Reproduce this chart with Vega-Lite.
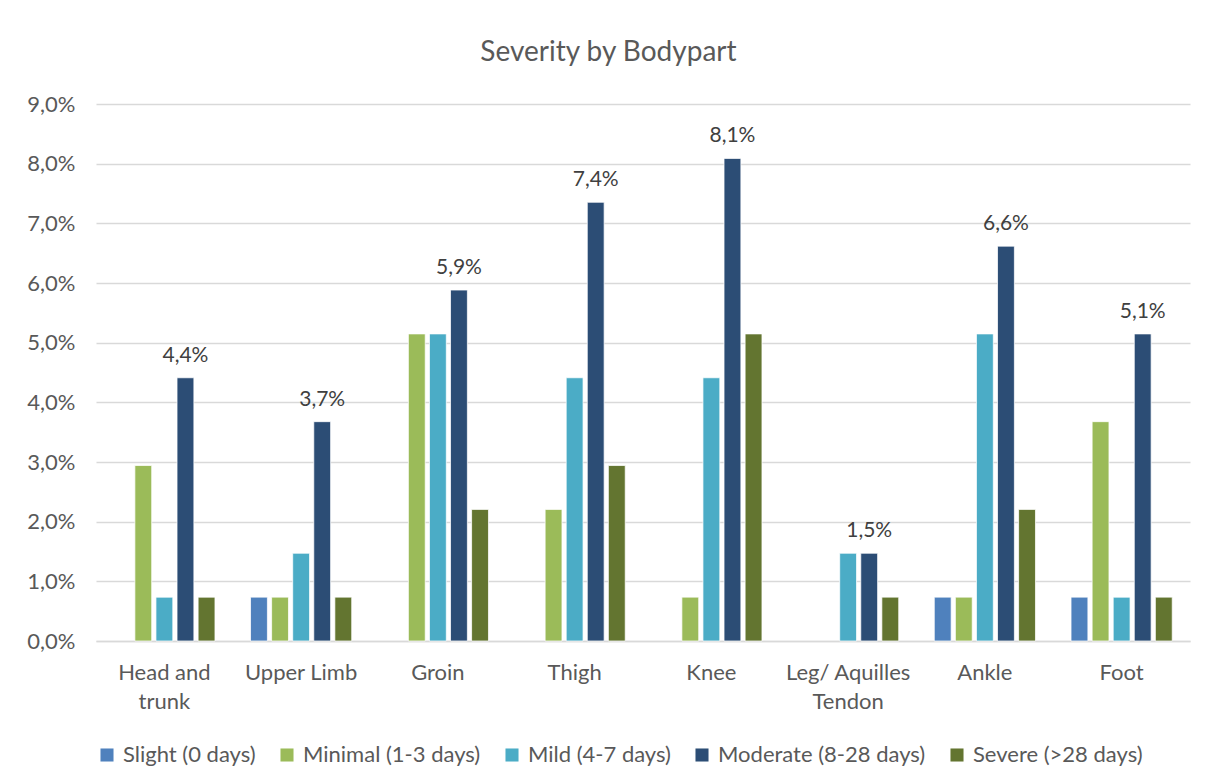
{
  "$schema": "https://vega.github.io/schema/vega-lite/v6.json",
  "width": 1094,
  "height": 537,
  "autosize": {"type": "none"},
  "padding": {"left": 96, "top": 104, "right": 15, "bottom": 143},
  "background": "white",
  "title": {"text": "Severity by Bodypart", "fontSize": 28, "font": "Lato", "fontWeight": "normal", "color": "#595959", "offset": 26, "anchor": "middle", "frame": "bounds"},
  "data": {"values": [
    {"part": "Head and trunk", "severity": "Minimal (1-3 days)", "value": 0.02941},
    {"part": "Head and trunk", "severity": "Mild (4-7 days)", "value": 0.00735},
    {"part": "Head and trunk", "severity": "Moderate (8-28 days)", "value": 0.04412},
    {"part": "Head and trunk", "severity": "Severe (>28 days)", "value": 0.00735},
    {"part": "Upper Limb", "severity": "Slight (0 days)", "value": 0.00735},
    {"part": "Upper Limb", "severity": "Minimal (1-3 days)", "value": 0.00735},
    {"part": "Upper Limb", "severity": "Mild (4-7 days)", "value": 0.01471},
    {"part": "Upper Limb", "severity": "Moderate (8-28 days)", "value": 0.03676},
    {"part": "Upper Limb", "severity": "Severe (>28 days)", "value": 0.00735},
    {"part": "Groin", "severity": "Minimal (1-3 days)", "value": 0.05147},
    {"part": "Groin", "severity": "Mild (4-7 days)", "value": 0.05147},
    {"part": "Groin", "severity": "Moderate (8-28 days)", "value": 0.05882},
    {"part": "Groin", "severity": "Severe (>28 days)", "value": 0.02206},
    {"part": "Thigh", "severity": "Minimal (1-3 days)", "value": 0.02206},
    {"part": "Thigh", "severity": "Mild (4-7 days)", "value": 0.04412},
    {"part": "Thigh", "severity": "Moderate (8-28 days)", "value": 0.07353},
    {"part": "Thigh", "severity": "Severe (>28 days)", "value": 0.02941},
    {"part": "Knee", "severity": "Minimal (1-3 days)", "value": 0.00735},
    {"part": "Knee", "severity": "Mild (4-7 days)", "value": 0.04412},
    {"part": "Knee", "severity": "Moderate (8-28 days)", "value": 0.08088},
    {"part": "Knee", "severity": "Severe (>28 days)", "value": 0.05147},
    {"part": "Leg/ Aquilles Tendon", "severity": "Mild (4-7 days)", "value": 0.01471},
    {"part": "Leg/ Aquilles Tendon", "severity": "Moderate (8-28 days)", "value": 0.01471},
    {"part": "Leg/ Aquilles Tendon", "severity": "Severe (>28 days)", "value": 0.00735},
    {"part": "Ankle", "severity": "Slight (0 days)", "value": 0.00735},
    {"part": "Ankle", "severity": "Minimal (1-3 days)", "value": 0.00735},
    {"part": "Ankle", "severity": "Mild (4-7 days)", "value": 0.05147},
    {"part": "Ankle", "severity": "Moderate (8-28 days)", "value": 0.06618},
    {"part": "Ankle", "severity": "Severe (>28 days)", "value": 0.02206},
    {"part": "Foot", "severity": "Slight (0 days)", "value": 0.00735},
    {"part": "Foot", "severity": "Minimal (1-3 days)", "value": 0.03676},
    {"part": "Foot", "severity": "Mild (4-7 days)", "value": 0.00735},
    {"part": "Foot", "severity": "Moderate (8-28 days)", "value": 0.05147},
    {"part": "Foot", "severity": "Severe (>28 days)", "value": 0.00735}
  ]},
  "encoding": {
    "x": {
      "field": "part", "type": "nominal",
      "sort": ["Head and trunk", "Upper Limb", "Groin", "Thigh", "Knee", "Leg/ Aquilles Tendon", "Ankle", "Foot"],
      "scale": {"paddingInner": 0.26, "paddingOuter": 0.13},
      "axis": {
        "title": null, "labelAngle": 0, "ticks": false, "domain": true, "domainColor": "#D9D9D9", "domainWidth": 1.3,
        "labelPadding": 21, "labelFontSize": 22, "labelFont": "Lato", "labelColor": "#595959", "labelLineHeight": 29, "labelBaseline": "top",
        "labelExpr": "datum.label == 'Head and trunk' ? ['Head and', 'trunk'] : datum.label == 'Leg/ Aquilles Tendon' ? ['Leg/ Aquilles', 'Tendon'] : datum.label"
      }
    },
    "xOffset": {
      "field": "severity", "type": "nominal",
      "scale": {"domain": ["Slight (0 days)", "Minimal (1-3 days)", "Mild (4-7 days)", "Moderate (8-28 days)", "Severe (>28 days)"], "paddingInner": 0.2}
    },
    "y": {
      "field": "value", "type": "quantitative",
      "scale": {"domain": [0, 0.09], "nice": false},
      "axis": {
        "title": null, "format": ".1%", "values": [0, 0.01, 0.02, 0.03, 0.04, 0.05, 0.06, 0.07, 0.08, 0.09],
        "domain": false, "ticks": false, "grid": true, "gridColor": "#D9D9D9", "gridWidth": 1.3,
        "labelPadding": 21, "labelFontSize": 22, "labelFont": "Lato", "labelColor": "#595959"
      }
    }
  },
  "layer": [
    {
      "mark": {"type": "bar", "stroke": "white", "strokeWidth": 0.75},
      "encoding": {
        "color": {
          "field": "severity", "type": "nominal",
          "scale": {"domain": ["Slight (0 days)", "Minimal (1-3 days)", "Mild (4-7 days)", "Moderate (8-28 days)", "Severe (>28 days)"],
                    "range": ["#4F81BD", "#9BBB59", "#4BACC6", "#2C4D75", "#637530"]},
          "legend": {
            "title": null, "orient": "bottom", "direction": "horizontal", "symbolType": "square", "symbolSize": 170,
            "symbolStrokeWidth": 0, "labelFontSize": 22, "labelFont": "Lato", "labelColor": "#595959", "labelLimit": 400,
            "columnPadding": 20, "labelOffset": 5, "offset": 32
          }
        }
      }
    },
    {
      "transform": [{"filter": "datum.severity == 'Moderate (8-28 days)'"}],
      "mark": {"type": "text", "baseline": "bottom", "dy": -12, "fontSize": 21, "font": "Lato", "color": "#404040"},
      "encoding": {
        "text": {"field": "value", "type": "quantitative", "format": ".1%"}
      }
    }
  ],
  "config": {
    "locale": {"number": {"decimal": ",", "thousands": ".", "grouping": [3], "currency": ["", " €"]}},
    "view": {"stroke": null}
  }
}
